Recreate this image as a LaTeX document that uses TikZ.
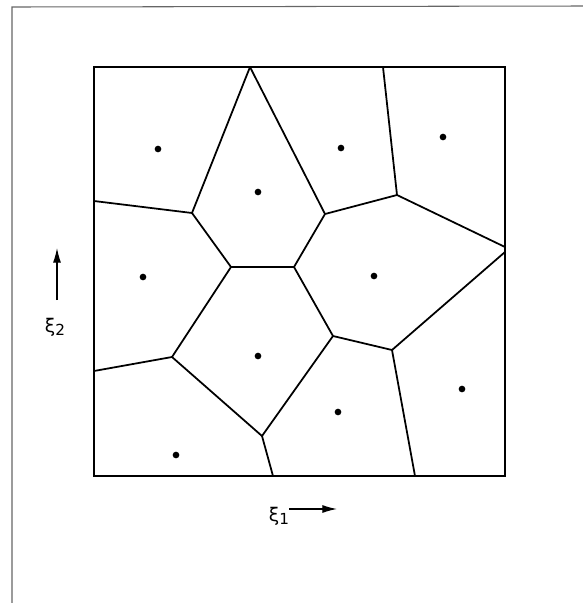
\documentclass[tikz,border=0pt]{standalone}
\usepackage{fontspec}
\setmainfont{DejaVu Sans}
\usetikzlibrary{arrows.meta}

\begin{document}
\begin{tikzpicture}[x=0.03cm, y=-0.03cm,
                cell/.style={line width=1.5pt, line join=round},
                frame/.style={line width=2pt},
                outer/.style={line width=0.9pt, draw=black!60},
                site/.style={circle, fill=black, inner sep=0pt, minimum size=2mm},
                axis/.style={line width=1pt, -{Latex[length=4.4mm, width=2.4mm]}},
                label/.style={inner sep=0pt, font=\fontsize{16}{19}\selectfont}
            ]
                \useasboundingbox (0,0) rectangle (583,603);

                % Outer frame
                \coordinate (o-bl) at (12,603);
                \coordinate (o-tl) at (12,7);
                \coordinate (o-tr) at (583,6);
                \draw[outer] (o-bl) -- (o-tl) -- (o-tr);

                % Square
                \coordinate (sw) at (94,476);
                \coordinate (nw) at (94,67);
                \coordinate (ne) at (505,67);
                \coordinate (se) at (505,476);
                \draw[frame] (sw) -- (nw) -- (ne) -- (se) -- cycle;

                % Vertices on the border
                \coordinate (t1) at (250,67);
                \coordinate (t2) at (383,67);
                \coordinate (l1) at (94,201);
                \coordinate (l2) at (94,371);
                \coordinate (b1) at (273,476);
                \coordinate (b2) at (415,476);
                \coordinate (r1) at (505,247);
                \coordinate (r2) at (505,252);

                % Inner vertices
                \coordinate (va) at (192,213);
                \coordinate (vb) at (231,267);
                \coordinate (vc) at (294,267);
                \coordinate (vd) at (325,214);
                \coordinate (ve) at (397,195);
                \coordinate (vf) at (333,336);
                \coordinate (vg) at (392,350);
                \coordinate (vh) at (172,357);
                \coordinate (vi) at (262,436);

                % Cell edges
                \draw[cell] (l1) -- (va) -- (t1) -- (vd);
                \draw[cell] (va) -- (vb) -- (vc) -- (vd) -- (ve) -- (t2);
                \draw[cell] (ve) -- (r1);
                \draw[cell] (r2) -- (vg) -- (b2);
                \draw[cell] (vc) -- (vf) -- (vg);
                \draw[cell] (vf) -- (vi) -- (b1);
                \draw[cell] (vb) -- (vh) -- (l2);
                \draw[cell] (vh) -- (vi);

                % Sites
                \node[site] (s1) at (158,149) {};
                \node[site] (s2) at (258,192) {};
                \node[site] (s3) at (143,277) {};
                \node[site] (s4) at (341,148) {};
                \node[site] (s5) at (443,137) {};
                \node[site] (s6) at (374,276) {};
                \node[site] (s7) at (258,356) {};
                \node[site] (s8) at (176,455) {};
                \node[site] (s9) at (338,412) {};
                \node[site] (s10) at (462,389) {};

                % Axes
                \node[label] (xi2) at (55,327) {ξ\raisebox{-0.35ex}{\fontsize{13}{15}\selectfont 2}};
                \coordinate (up-start) at (57,300);
                \coordinate (up-end) at (57,248);
                \draw[axis] (up-start) -- (up-end);

                \node[label] (xi1) at (279,516) {ξ\raisebox{-0.35ex}{\fontsize{13}{15}\selectfont 1}};
                \coordinate (right-start) at (289,509);
                \coordinate (right-end) at (337,509);
                \draw[axis] (right-start) -- (right-end);
            \end{tikzpicture}
\end{document}
